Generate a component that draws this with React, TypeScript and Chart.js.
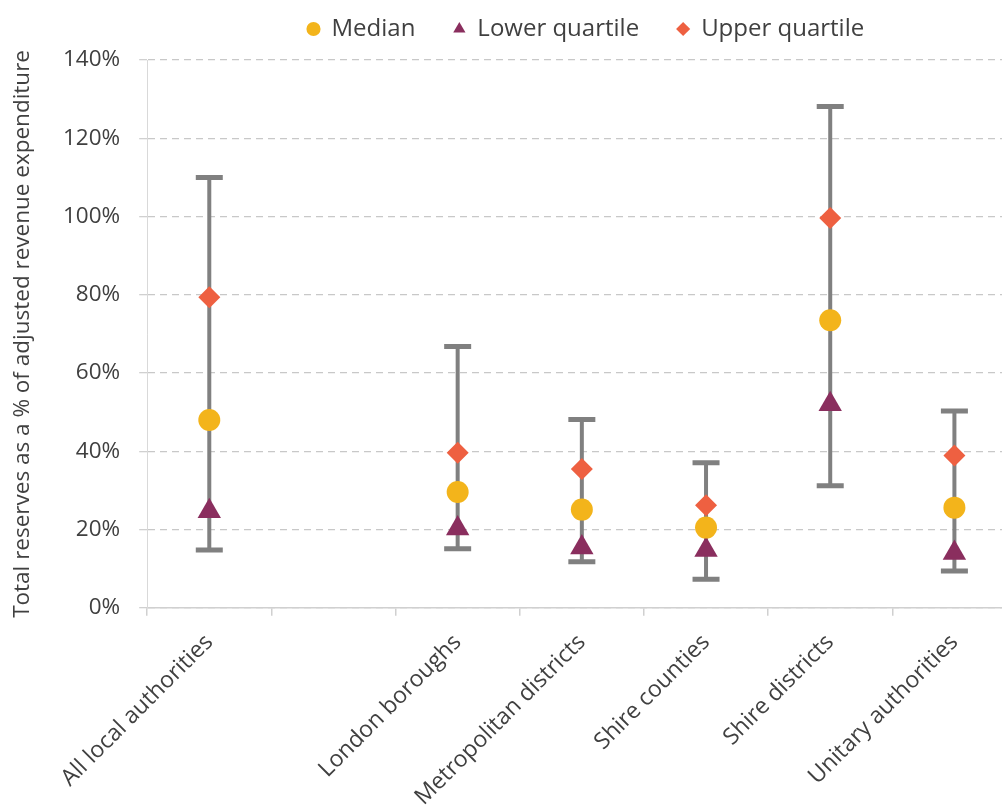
import React, { useEffect, useRef } from 'react';
import { Chart, registerables } from 'chart.js';

Chart.register(...registerables);

const categories: string[] = [
  'All local authorities',
  '',
  'London boroughs',
  'Metropolitan districts',
  'Shire counties',
  'Shire districts',
  'Unitary authorities',
];
const medianValues: (number | null)[] = [48, null, 29.6, 25.1, 20.5, 73.5, 25.6];
const lowerQuartileValues: (number | null)[] = [24.7, null, 20.3, 15.4, 14.8, 52, 14];
const upperQuartileValues: (number | null)[] = [79.4, null, 39.6, 35.5, 26.2, 99.6, 38.9];
const rangeMinValues: (number | null)[] = [14.8, null, 15.1, 11.8, 7.3, 31.2, 9.4];
const rangeMaxValues: (number | null)[] = [110, null, 66.8, 48.1, 37.1, 128.1, 50.3];
const yTickValues: number[] = [0, 20, 40, 60, 80, 100, 120, 140];

const TEXT = '#404040';
const FONT = 'Open Sans';

const whiskerPlugin = {
  id: 'whiskers',
  beforeDatasetsDraw(chart: any) {
    const { ctx, scales } = chart;
    const x = scales.x;
    const y = scales.y;
    ctx.save();
    ctx.strokeStyle = '#808080';
    ctx.lineCap = 'butt';
    rangeMinValues.forEach((lo, i) => {
      const hi = rangeMaxValues[i];
      if (lo == null || hi == null) return;
      const px = x.getPixelForValue(i);
      const yLo = y.getPixelForValue(lo);
      const yHi = y.getPixelForValue(hi);
      ctx.lineWidth = 4;
      ctx.beginPath();
      ctx.moveTo(px, yLo);
      ctx.lineTo(px, yHi);
      ctx.stroke();
      ctx.lineWidth = 5;
      ctx.beginPath();
      ctx.moveTo(px - 13.5, yLo);
      ctx.lineTo(px + 13.5, yLo);
      ctx.moveTo(px - 13.5, yHi);
      ctx.lineTo(px + 13.5, yHi);
      ctx.stroke();
    });
    ctx.restore();
  },
};

const legendPlugin = {
  id: 'legendAdjust',
  beforeInit(chart: any) {
    const l = chart.legend;
    if (!l) return;
    const origFit = l.fit.bind(l);
    l.fit = function () {
      origFit();
      if (this.height) this.height += 9;
    };
  },
  afterLayout(chart: any) {
    const l = chart.legend;
    const ca = chart.chartArea;
    if (!l || !ca) return;
    l.left = ca.left + 4;
    l.right = ca.right + 4;
    l.width = ca.right - ca.left;
  },
};

export default function App() {
  const ref = useRef<HTMLCanvasElement>(null);
  useEffect(() => {
    const canvas = ref.current;
    if (!canvas) return;
    const chart = new Chart(canvas, {
      type: 'line',
      data: {
        labels: categories,
        datasets: [
          {
            label: 'Median',
            data: medianValues,
            showLine: false,
            pointStyle: 'circle',
            pointRadius: 11,
            pointBorderWidth: 0,
            backgroundColor: '#F3B41B',
            borderColor: '#F3B41B',
          },
          {
            label: 'Lower quartile',
            data: lowerQuartileValues,
            showLine: false,
            pointStyle: 'triangle',
            pointRadius: 13.5,
            pointBorderWidth: 0,
            backgroundColor: '#8A2E5E',
            borderColor: '#8A2E5E',
          },
          {
            label: 'Upper quartile',
            data: upperQuartileValues,
            showLine: false,
            pointStyle: 'rectRot',
            pointRadius: 11,
            pointBorderWidth: 0,
            backgroundColor: '#EE6041',
            borderColor: '#EE6041',
          },
        ],
      },
      options: {
        responsive: false,
        animation: false,
        layout: { padding: { left: 0, right: 13, top: 0, bottom: 15 } },
        plugins: {
          tooltip: { enabled: false },
          legend: {
            position: 'top',
            labels: {
              usePointStyle: true,
              boxWidth: 12,
              boxHeight: 10,
              padding: 38,
              color: TEXT,
              font: { family: FONT, size: 24 },
            },
          },
        },
        scales: {
          x: {
            type: 'category',
            offset: true,
            grid: {
              drawOnChartArea: false,
              offset: true,
              color: '#d0d0d0',
              tickLength: 8,
              lineWidth: 1.5,
            },
            border: { display: true, color: '#d0d0d0', width: 1.5 },
            ticks: {
              autoSkip: false,
              maxRotation: 45,
              minRotation: 45,
              color: TEXT,
              padding: 13,
              font: { family: FONT, size: 23 },
            },
          },
          y: {
            min: 0,
            max: 140,
            afterBuildTicks(scale: any) {
              scale.ticks = yTickValues.map((v) => ({ value: v }));
            },
            grid: {
              color: '#c8c8c8',
              lineWidth: 1.3,
              tickLength: 8,
              tickColor: '#d0d0d0',
              tickBorderDash: [],
            },
            border: { display: true, color: '#d9d9d9', width: 1, dash: [7, 5] },
            ticks: {
              color: TEXT,
              padding: 19,
              font: { family: FONT, size: 22.5 },
              callback: (v: any) => v + '%',
            },
            title: {
              display: true,
              text: 'Total reserves as a % of adjusted revenue expenditure',
              color: TEXT,
              font: { family: FONT, size: 22.5 },
              padding: { top: 9, bottom: 8 },
            },
          },
        },
      },
      plugins: [whiskerPlugin, legendPlugin],
    });
    return () => chart.destroy();
  }, []);
  return (
    <div
      style={{
        position: 'fixed',
        left: 0,
        top: 0,
        width: 1002,
        height: 810,
        overflow: 'hidden',
        background: '#ffffff',
      }}
    >
      <canvas
        ref={ref}
        width={1030}
        height={860}
        style={{ position: 'absolute', left: 0, top: -21 }}
      />
    </div>
  );
}
